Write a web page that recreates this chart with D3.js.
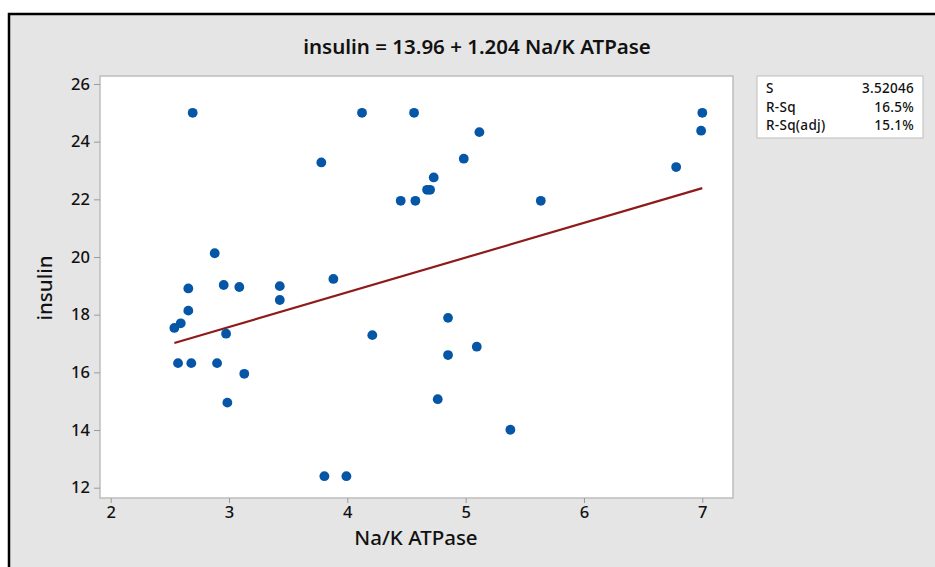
<!DOCTYPE html>
<html lang="en">
<head>
    <meta charset="UTF-8">
    <title>insulin vs Na/K ATPase</title>
    <script src="https://d3js.org/d3.v7.min.js"></script>
    <style>
        body { margin: 0; background: #fff; }
        svg text { font-family: "Noto Sans", "Open Sans", sans-serif; fill: #111; }
    </style>
</head>
<body>
    <div id="graph"></div>
    <script>
        const atpase = [2.693, 4.124, 4.564, 7.0, 6.99, 5.116, 3.78, 4.984, 4.73, 4.674,
            4.699, 4.451, 4.575, 5.635, 6.779, 2.879, 2.955, 3.087, 2.656, 3.429,
            3.429, 3.882, 2.656, 2.592, 2.538, 2.975, 4.211, 2.569, 2.681, 2.899,
            3.129, 2.986, 4.851, 4.851, 5.094, 4.764, 5.378, 3.806, 3.992]
        const insulin = [25.0, 25.0, 25.0, 25.0, 24.38, 24.33, 23.28, 23.41, 22.76, 22.33,
            22.33, 21.95, 21.95, 21.95, 23.12, 20.13, 19.03, 18.96, 18.91, 18.99,
            18.51, 19.24, 18.14, 17.70, 17.54, 17.34, 17.29, 16.32, 16.32, 16.32,
            15.95, 14.95, 17.89, 16.60, 16.89, 15.07, 14.01, 12.40, 12.40]

        const fit = {intercept: 13.96, slope: 1.204}
        const statLabels = ["S", "R-Sq", "R-Sq(adj)"]
        const statValues = ["3.52046", "16.5%", "15.1%"]
        const xTicks = [2, 3, 4, 5, 6, 7]
        const yTicks = [12, 14, 16, 18, 20, 22, 24, 26]

        const width = 935, height = 567
        const plot = {left: 100, right: 733, top: 76, bottom: 498}

        const svg = d3.select("#graph").append("svg")
            .attr("width", width)
            .attr("height", height)

        // grey figure background with black frame
        svg.append("rect")
            .attr("x", 9).attr("y", 14)
            .attr("width", width + 20).attr("height", height + 20)
            .attr("fill", "#e5e5e5")
            .attr("stroke", "#000")
            .attr("stroke-width", 2.5)

        var x = d3.scaleLinear()
            .domain([2, 7])
            .range([110.7, 702.3])

        var y = d3.scaleLinear()
            .domain([12, 26])
            .range([487.7, 84])

        // plot area
        svg.append("rect")
            .attr("x", plot.left).attr("y", plot.top)
            .attr("width", plot.right - plot.left)
            .attr("height", plot.bottom - plot.top)
            .attr("fill", "#fff")
            .attr("stroke", "#bdbdbd")
            .attr("stroke-width", 1.5)

        var xAxis = svg.append("g")
            .attr("transform", "translate(0," + plot.bottom + ")")
            .call(d3.axisBottom(x).tickValues(xTicks).tickFormat(d3.format("d")).tickSize(5).tickPadding(3))
        var yAxis = svg.append("g")
            .attr("transform", "translate(" + plot.left + ",0)")
            .call(d3.axisLeft(y).tickValues(yTicks).tickFormat(d3.format("d")).tickSize(6).tickPadding(4))

        ;[xAxis, yAxis].forEach(function (a) {
            a.select(".domain").remove()
            a.selectAll(".tick line").attr("stroke", "#9a9a9a")
            a.selectAll(".tick text")
                .style("font-size", "16.5px")
                .style("font-weight", 500)
                .style("font-family", "'Noto Sans', sans-serif")
                .attr("fill", "#111")
        })

        // fitted line
        var xr = d3.extent(atpase)
        svg.append("line")
            .attr("x1", x(xr[0]))
            .attr("y1", y(fit.intercept + fit.slope * xr[0]))
            .attr("x2", x(xr[1]))
            .attr("y2", y(fit.intercept + fit.slope * xr[1]))
            .attr("stroke", "#8e1a1a")
            .attr("stroke-width", 2.2)

        // points
        svg.append("g")
            .selectAll("circle")
            .data(atpase)
            .enter()
            .append("circle")
            .attr("cx", (d, i) => x(d))
            .attr("cy", (d, i) => y(insulin[i]))
            .attr("r", 4.9)
            .attr("fill", "#0556a6")

        // title and axis labels
        svg.append("text")
            .attr("x", 477).attr("y", 54)
            .attr("text-anchor", "middle")
            .style("font-size", "20.5px")
            .style("font-weight", 600)
            .text("insulin = " + fit.intercept.toFixed(2) + " + " + fit.slope.toFixed(3) + " Na/K ATPase")

        svg.append("text")
            .attr("x", 416).attr("y", 545)
            .attr("text-anchor", "middle")
            .style("font-size", "20.5px")
            .style("font-weight", 500)
            .text("Na/K ATPase")

        svg.append("text")
            .attr("transform", "translate(52," + 288 + ") rotate(-90)")
            .attr("text-anchor", "middle")
            .style("font-size", "20.5px")
            .style("font-weight", 500)
            .text("insulin")

        // stats box
        var box = svg.append("g")
        box.append("rect")
            .attr("x", 757).attr("y", 76)
            .attr("width", 166).attr("height", 62)
            .attr("fill", "#fff")
            .attr("stroke", "#bdbdbd")
        statLabels.forEach(function (s, i) {
            box.append("text")
                .attr("x", 766).attr("y", 93 + i * 18.5)
                .style("font-size", "13.5px")
                .style("letter-spacing", "0.3px")
                .style("font-weight", 500)
                .text(s)
            box.append("text")
                .attr("x", 914).attr("y", 93 + i * 18.5)
                .attr("text-anchor", "end")
                .style("font-size", "13.5px")
                .style("letter-spacing", "0.3px")
                .style("font-weight", 500)
                .text(statValues[i])
        })
    </script>
</body>
</html>
